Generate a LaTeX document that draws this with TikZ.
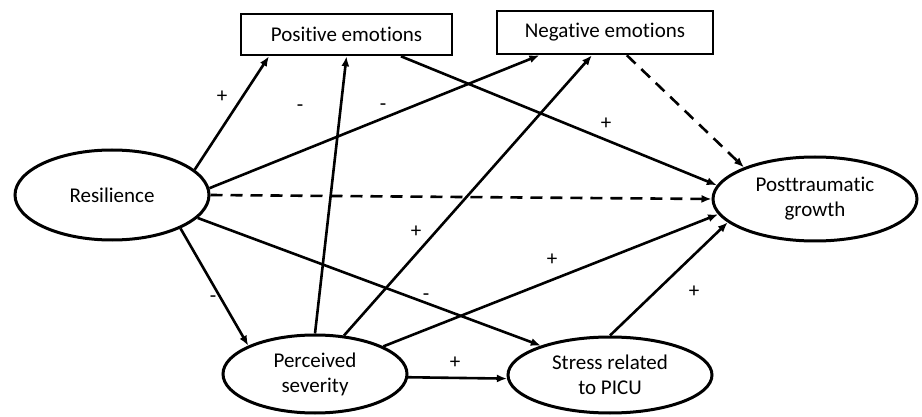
\documentclass[tikz,border=0pt]{standalone}
\usepackage{fontspec}
\setmainfont{Carlito}[Ligatures=NoCommon]
\usetikzlibrary{arrows.meta,calc,shapes.geometric}
\begin{document}
\begin{tikzpicture}[x=1pt,y=-1pt,
  every node/.style={font=\fontsize{21}{25}\selectfont},
  boxnode/.style={draw,line width=2.6pt,minimum width=211pt,minimum height=41pt,inner sep=0pt},
  ovalnode/.style={draw,ellipse,line width=3pt,align=center,inner sep=0pt},
  lbl/.style={inner sep=0pt},
  conn/.style={line width=2.6pt,-{Latex[length=10pt,width=8pt]}},
  dconn/.style={conn,dash pattern=on 12pt off 8pt}]
\useasboundingbox (0,0) rectangle (922,417);
\node[boxnode] (pos) at (346.5,34.5) {Positive emotions};
\node[boxnode,minimum width=216pt,minimum height=43pt] (neg) at (605,32.5) {Negative emotions};
\node[ovalnode,minimum width=194pt,minimum height=90pt] (res) at (112,195) {Resilience};
\node[ovalnode,minimum width=204pt,minimum height=84pt] (ptg) at (815,199) {Posttraumatic\\growth};
\node[ovalnode,minimum width=184pt,minimum height=78pt] (sev) at (315,374) {Perceived\\severity};
\node[ovalnode,minimum width=204pt,minimum height=76pt] (str) at (610,375) {Stress related\\to PICU};

\draw[conn] (res.17) -- ($(pos.south west)!0.137!(pos.south east)$);
\draw[conn] (res.4) -- ($(neg.south west)!0.2!(neg.south east)$);
\draw[conn] (sev.90) -- ($(pos.south west)!0.5!(pos.south east)$);
\draw[conn] ($(pos.south west)!0.755!(pos.south east)$) -- (ptg.172);
\draw[dconn] ($(neg.south west)!0.6!(neg.south east)$) -- (ptg.156);
\draw[dconn] (res.0) -- (ptg.180);
\draw[conn] (sev.53) -- ($(neg.south west)!0.44!(neg.south east)$);
\draw[conn] (res.-15) -- (str.157);
\draw[conn] (res.-26) -- (sev.157);
\draw[conn] (sev.22) -- (ptg.189);
\draw[conn] (sev.-2) -- (str.182);
\draw[conn] (str.90) -- (ptg.195);

\node[lbl] (l1) at (222,97) {+};
\node[lbl] (l2) at (300,108) {-};
\node[lbl] (l3) at (383,107) {-};
\node[lbl] (l4) at (606,124) {+};
\node[lbl] (l5) at (416,232) {+};
\node[lbl] (l6) at (213,299) {-};
\node[lbl] (l7) at (426,297) {-};
\node[lbl] (l8) at (552,260) {+};
\node[lbl] (l9) at (455,363) {+};
\node[lbl] (l10) at (694,292) {+};
\end{tikzpicture}
\end{document}
